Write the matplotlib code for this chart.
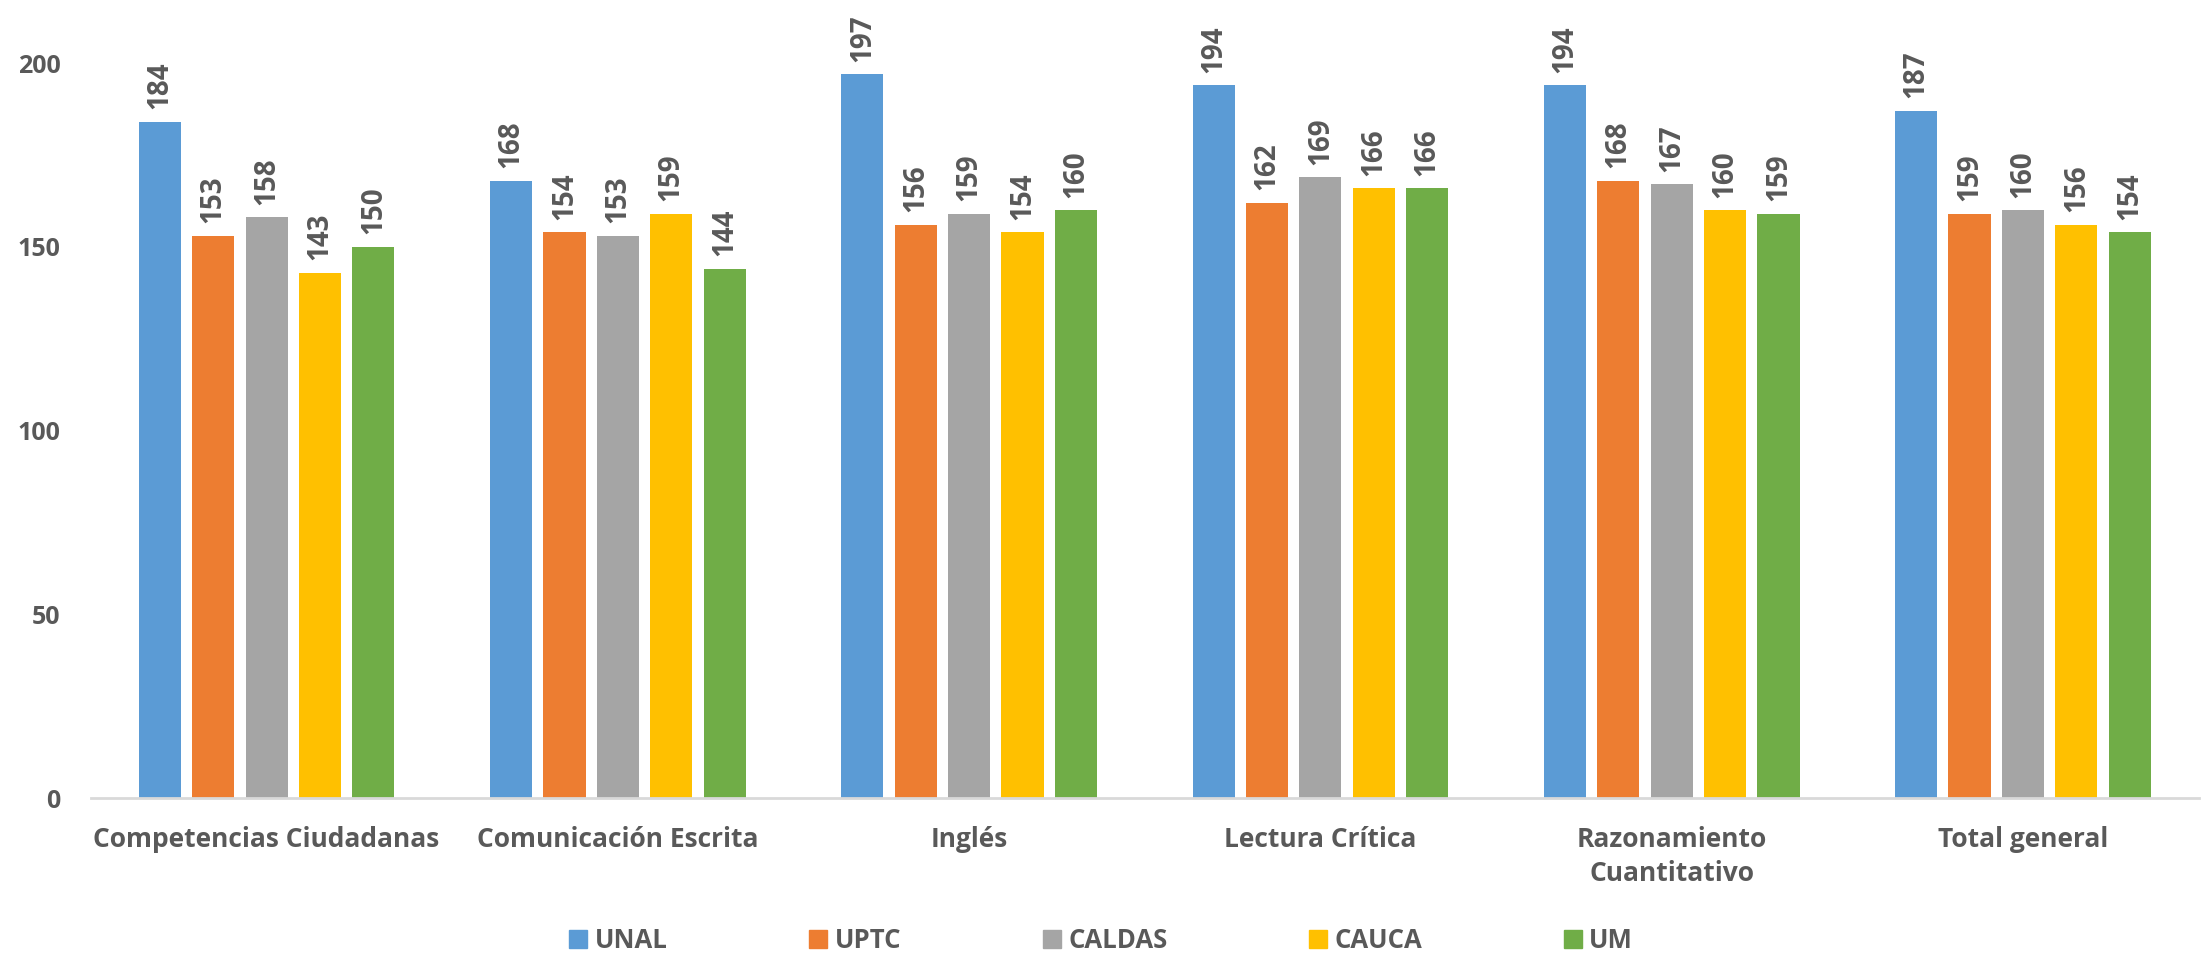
import matplotlib
matplotlib.use("Agg")
import matplotlib.pyplot as plt
import numpy as np
from matplotlib.lines import Line2D

categories = ["Competencias Ciudadanas", "Comunicación Escrita", "Inglés",
              "Lectura Crítica", "Razonamiento\nCuantitativo", "Total general"]
series_names = ["UNAL", "UPTC", "CALDAS", "CAUCA", "UM"]
unal = [184, 168, 197, 194, 194, 187]
uptc = [153, 154, 156, 162, 168, 159]
caldas = [158, 153, 159, 169, 167, 160]
cauca = [143, 159, 154, 166, 160, 156]
um = [150, 144, 160, 166, 159, 154]
yticks = [0, 50, 100, 150, 200]

colors = ["#5B9BD5", "#ED7D31", "#A5A5A5", "#FFC000", "#70AD47"]
txt = "#595959"
plt.rcParams['font.family'] = ['Open Sans', 'DejaVu Sans']

fig = plt.figure(figsize=(22.03, 9.56), dpi=100)
ax = fig.add_axes([0.0413, 0.165, 0.9567, 0.769])

x = np.arange(len(categories))
pitch = 0.152
width = 0.12
all_series = [unal, uptc, caldas, cauca, um]
for i, (vals, name, c) in enumerate(zip(all_series, series_names, colors)):
    pos = x + (i - 2) * pitch
    ax.bar(pos, vals, width=width, color=c, label=name, zorder=2)
    for xp, v in zip(pos, vals):
        ax.annotate(str(v), (xp, v), xytext=(0, 9), textcoords="offset points",
                    rotation=90, ha="center", va="bottom", fontsize=20,
                    fontweight="bold", color=txt, annotation_clip=False)

ax.set_xlim(-0.5, len(categories) - 0.5)
ax.set_ylim(0, 200)
ax.set_yticks(yticks)
ax.set_yticklabels([str(t) for t in yticks], fontsize=18, fontweight="bold", color=txt)
ax.set_xticks(x)
ax.set_xticklabels(categories, fontsize=19, fontweight="bold", color=txt,
                   linespacing=1.35, va="top")
ax.tick_params(axis="both", length=0)
ax.tick_params(axis="x", pad=20)
ax.tick_params(axis="y", pad=22)
for s in ["top", "right", "left"]:
    ax.spines[s].set_visible(False)
ax.spines["bottom"].set_color("#D9D9D9")
ax.spines["bottom"].set_linewidth(2)

handles = [Line2D([], [], marker="s", linestyle="none", markersize=13,
                  markerfacecolor=c, markeredgecolor=c) for c in colors]
leg = fig.legend(handles, series_names, loc="center", bbox_to_anchor=(0.499, 0.016),
                 ncol=5, frameon=False, handletextpad=0.15, columnspacing=5.35,
                 handlelength=1.0, prop={"size": 18.5, "weight": "bold"})
for t in leg.get_texts():
    t.set_color(txt)

fig.savefig("out.png", dpi=100)
